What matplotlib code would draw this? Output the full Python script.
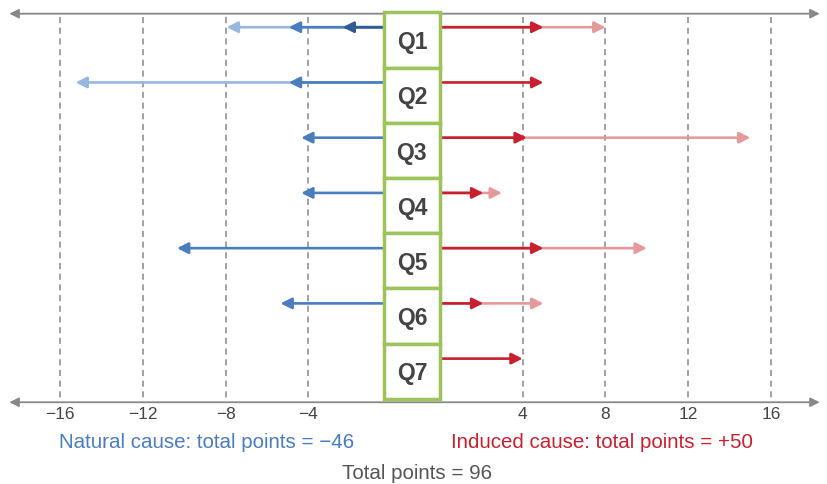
import numpy as np
import matplotlib.pyplot as plt

# data: arrow end values per question, drawn longest first
questions = ["Q1", "Q2", "Q3", "Q4", "Q5", "Q6", "Q7"]
natural_light = [-7.6, -14.9, 0, 0, 0, 0, 0]
natural_mid = [-4.6, -4.6, -4.0, -4.0, -10.0, -5.0, 0]
natural_dark = [-2.0, 0, 0, 0, 0, 0, 0]
induced_light = [8.0, 0, 15.0, 3.0, 10.0, 5.0, 0]
induced_dark = [5.0, 5.0, 4.2, 2.1, 5.0, 2.1, 4.0]
tick_values = [-16, -12, -8, -4, 4, 8, 12, 16]
natural_total = -46
induced_total = 50
total_points = 96

FONT = "Liberation Sans"

DARK_BLUE = "#2f5b96"
MID_BLUE = "#4a7cc0"
LIGHT_BLUE = "#98b7e0"
RED = "#c8202f"
LIGHT_RED = "#e49a9a"
GREEN = "#9dc35b"
GREY = "#888888"

W = 1.35  # half width of the label column, in value units
LEFT_SHIFT = 0.35  # left grid sits a bit off the box edge in the original

fig = plt.figure(figsize=(8.28, 4.85), dpi=100)
ax = fig.add_axes([0, 0, 1, 1])
ax.set_xlim(-19.9, 20.1)
ax.set_ylim(8.04, -0.741)
ax.axis("off")

top_y, bot_y = -0.475, 6.56

# dashed grid lines
for t in tick_values:
    x = (-W + t + LEFT_SHIFT) if t < 0 else (W + t)
    ax.plot([x, x], [top_y + 0.06, bot_y - 0.02], ls=(0, (4, 3)), color=GREY, lw=1.1, zorder=1)
    lab = ("\u2212%d" % abs(t)) if t < 0 else str(t)
    ax.text(x, bot_y + 0.06, lab, ha="center", va="top", fontsize=12.5,
            color="#444444", family=FONT)

# double headed axis lines
for yy in (top_y, bot_y):
    ax.annotate("", xy=(-19.45, yy), xytext=(19.7, yy),
                arrowprops=dict(arrowstyle="<|-|>,head_length=0.5,head_width=0.25",
                                color=GREY, lw=1.3,
                                mutation_scale=11, shrinkA=0, shrinkB=0), zorder=2)


def arrow(x0, x1, y, color):
    ax.annotate("", xy=(x1, y), xytext=(x0, y),
                arrowprops=dict(arrowstyle="-|>,head_length=0.6,head_width=0.3",
                                color=color, lw=1.9, mutation_scale=11,
                                shrinkA=0, shrinkB=0), zorder=3)


for i, q in enumerate(questions):
    y = i - 0.23
    for vals, col in ((natural_light, LIGHT_BLUE), (natural_mid, MID_BLUE), (natural_dark, DARK_BLUE)):
        if vals[i] != 0:
            arrow(-W, -W + vals[i], y, col)
    for vals, col in ((induced_light, LIGHT_RED), (induced_dark, RED)):
        if vals[i] != 0:
            arrow(W, W + vals[i], y, col)
    ax.add_patch(plt.Rectangle((-W, i - 0.5), 2 * W, 1, facecolor="white",
                               edgecolor=GREEN, lw=2.5, zorder=4))
    ax.text(0, i + 0.03, q, ha="center", va="center", fontsize=16.5,
            fontweight="bold", color="#444444", family=FONT, zorder=5)

ax.text(-9.9, 7.27, "Natural cause: total points = \u2212%d" % abs(natural_total),
        ha="center", va="center", fontsize=14.8, color=MID_BLUE, family=FONT)
ax.text(9.2, 7.27, "Induced cause: total points = +%d" % induced_total,
        ha="center", va="center", fontsize=14.8, color=RED, family=FONT)
ax.text(0.24, 7.83, "Total points = %d" % total_points,
        ha="center", va="center", fontsize=14.8, color="#555555", family=FONT)

fig.savefig("out.png", dpi=100)
